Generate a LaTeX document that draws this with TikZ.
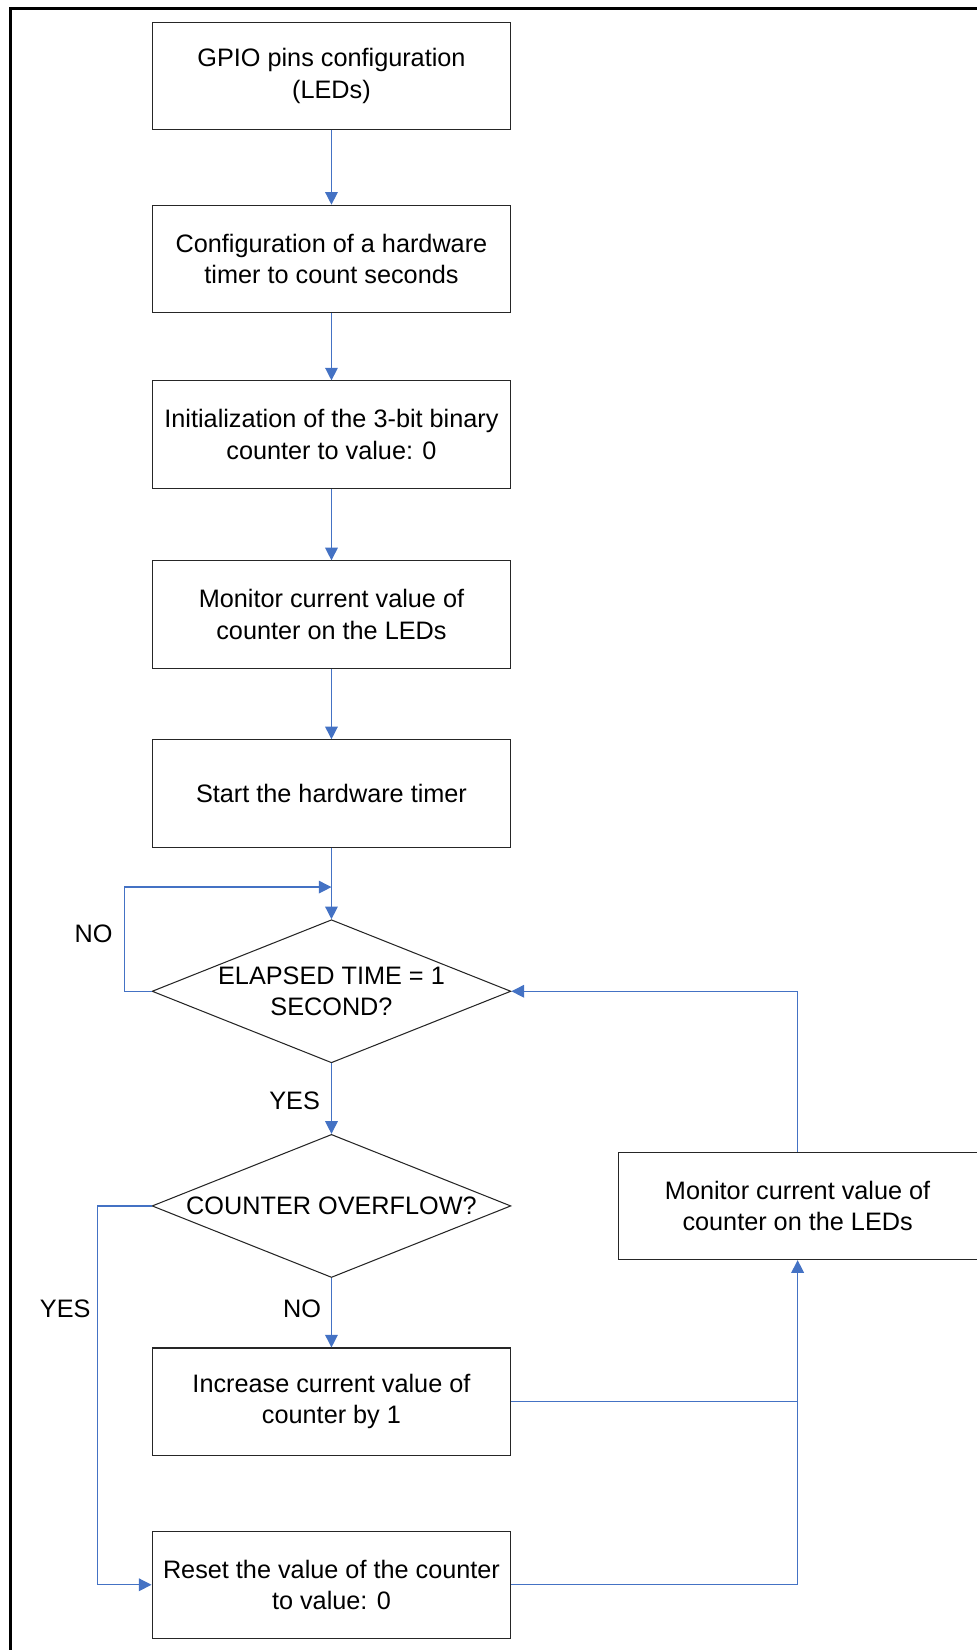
\documentclass[tikz,border=0pt]{standalone}
\usepackage{fontspec}
\setmainfont{Liberation Sans}
\usetikzlibrary{arrows.meta}
\usetikzlibrary{shapes.geometric}
\definecolor{flowblue}{RGB}{68,114,196}

\begin{document}
\begin{tikzpicture} [x=.5pt, y=-.5pt,
  every node/.style={font=\fontsize{12}{15}\selectfont, align=center},
  stepbox/.style={draw=black!85, line width=.5pt, minimum width=170.5pt, minimum height=51pt, inner sep=0pt},
  testbox/.style={diamond, draw=black!85, line width=.5pt, aspect=2.5, minimum width=170.5pt, minimum height=68pt, inner sep=0pt},
  flow/.style={flowblue, line width=.6pt},
  >={Triangle[length=6pt, width=6pt]}]
\useasboundingbox (0,0) rectangle (928,1568);
\draw[black, line width=1.4pt] (10,8) rectangle (940,1580);
\node[stepbox] (gpio)     at (315,72)   {GPIO pins configuration\\(LEDs)};
\node[stepbox] (timer)    at (315,246)  {Configuration of a hardware\\timer to count seconds};
\node[stepbox] (init)     at (315,413)  {Initialization of the 3-bit binary\\counter to value: 0};
\node[stepbox] (monitora) at (315,584)  {Monitor current value of\\counter on the LEDs};
\node[stepbox] (start)    at (315,754)  {Start the hardware timer};
\node[testbox] (elapsed)  at (315,942)  {ELAPSED TIME = 1\\SECOND?};
\node[testbox] (overflow) at (315,1146) {COUNTER OVERFLOW?};
\node[stepbox] (increase) at (315,1332) {Increase current value of\\counter by 1};
\node[stepbox] (reset)    at (315,1506) {Reset the value of the counter\\to value: 0};
\node[stepbox] (monitorb) at (758,1146) {Monitor current value of\\counter on the LEDs};
\node (nowait)   at (89,887)   {NO};
\node (yestime)  at (280,1046) {YES};
\node (yesover)  at (62,1244)  {YES};
\node (noover)   at (287,1244) {NO};
\coordinate (loopin) at (315,843);
\coordinate (join) at (monitorb.south |- increase.east);
\foreach \a/\b in {gpio/timer, timer/init, init/monitora, monitora/start, start/elapsed, elapsed/overflow, overflow/increase} {
 \draw[flow, ->] (\a.south) -- (\b.north);
}
\draw[flow, ->] (elapsed.west) -- ++(-26,0) |- (loopin);
\draw[flow, ->] (overflow.west) -- ++(-51,0) |- (reset.west);
\draw[flow, ->] (increase.east) -| (monitorb.south);
\draw[flow] (reset.east) -| (join);
\draw[flow, ->] (monitorb.north) |- (elapsed.east);
\end{tikzpicture}
\end{document}
